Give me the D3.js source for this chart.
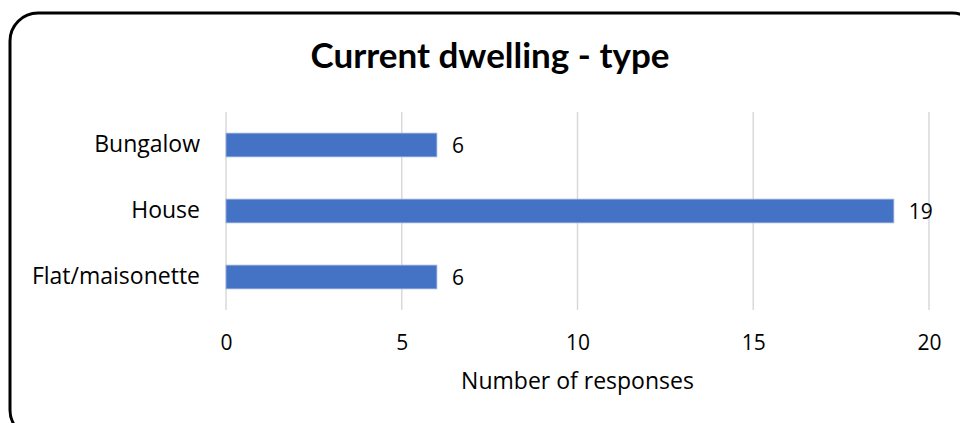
<!DOCTYPE html>
<meta charset="utf-8">
<script src="https://d3js.org/d3.v7.min.js"></script>
<style>
body { margin: 0; background: #fff; }
svg { display: block; font-family: "Open Sans", sans-serif; }
.grid line { stroke: #d9d9d9; stroke-width: 1.5; }
.lbl { fill: #000; }
</style>
<body>
<div id="chart"></div>
<script>
// dwelling types, top to bottom
var categories = ["Bungalow", "House", "Flat/maisonette"];
var responses = [6, 19, 6];
var xTicks = [0, 5, 10, 15, 20];

var width = 960, height = 423;
var margin = {top: 112, right: 31, bottom: 113, left: 226};

var svg = d3.select("#chart").append("svg")
  .attr("width", width)
  .attr("height", height);

// rounded frame
svg.append("rect")
  .attr("x", 10).attr("y", 13)
  .attr("width", 970).attr("height", 425)
  .attr("rx", 28).attr("ry", 28)
  .style("fill", "#fff")
  .style("stroke", "#000")
  .style("stroke-width", 3);

svg.append("text")
  .attr("x", 490).attr("y", 68)
  .attr("text-anchor", "middle")
  .style("font-family", "Lato, sans-serif")
  .style("font-size", "35px")
  .style("font-weight", "bold")
  .text("Current dwelling - type");

var x = d3.scaleLinear()
  .domain([0, 20])
  .range([margin.left, width - margin.right]);

var y = d3.scaleBand()
  .domain(categories)
  .range([margin.top, height - margin.bottom])
  .paddingInner(0.64)
  .paddingOuter(0.32);

// vertical gridlines
svg.append("g").attr("class", "grid")
  .selectAll("line")
  .data(xTicks)
  .join("line")
  .attr("x1", function(d) { return x(d); })
  .attr("x2", function(d) { return x(d); })
  .attr("y1", margin.top)
  .attr("y2", height - margin.bottom);

// x axis tick labels
var xAxis = d3.axisBottom(x).tickValues(xTicks).tickSize(0).tickPadding(0);
var gx = svg.append("g")
  .attr("transform", "translate(0," + (height - margin.bottom + 25) + ")")
  .call(xAxis);
gx.select(".domain").remove();
gx.selectAll("text").style("font-size", "21px").style("font-family", "'Open Sans', sans-serif").attr("fill", "#000");

// y axis category labels
var yAxis = d3.axisLeft(y).tickSize(0).tickPadding(26);
var gy = svg.append("g")
  .attr("transform", "translate(" + margin.left + ",0)")
  .call(yAxis);
gy.select(".domain").remove();
gy.selectAll("text").style("font-size", "23px").style("font-family", "'Open Sans', sans-serif").attr("fill", "#000");

// bars
svg.append("g")
  .selectAll("rect")
  .data(responses)
  .join("rect")
  .attr("x", x(0))
  .attr("y", function(d, i) { return y(categories[i]); })
  .attr("width", function(d) { return x(d) - x(0); })
  .attr("height", y.bandwidth())
  .style("fill", "#4472c4")
  .style("stroke", "#9db4e0")
  .style("stroke-width", 0.8);

// value labels
svg.append("g")
  .selectAll("text")
  .data(responses)
  .join("text")
  .attr("class", "lbl")
  .attr("x", function(d) { return x(d) + 15; })
  .attr("y", function(d, i) { return y(categories[i]) + y.bandwidth() / 2; })
  .attr("dy", "0.36em")
  .style("font-size", "21px")
  .text(function(d) { return d; });

// axis title
svg.append("text")
  .attr("x", (x(0) + x(20)) / 2)
  .attr("y", 389)
  .attr("text-anchor", "middle")
  .style("font-size", "23px")
  .text("Number of responses");
</script>
</body>
